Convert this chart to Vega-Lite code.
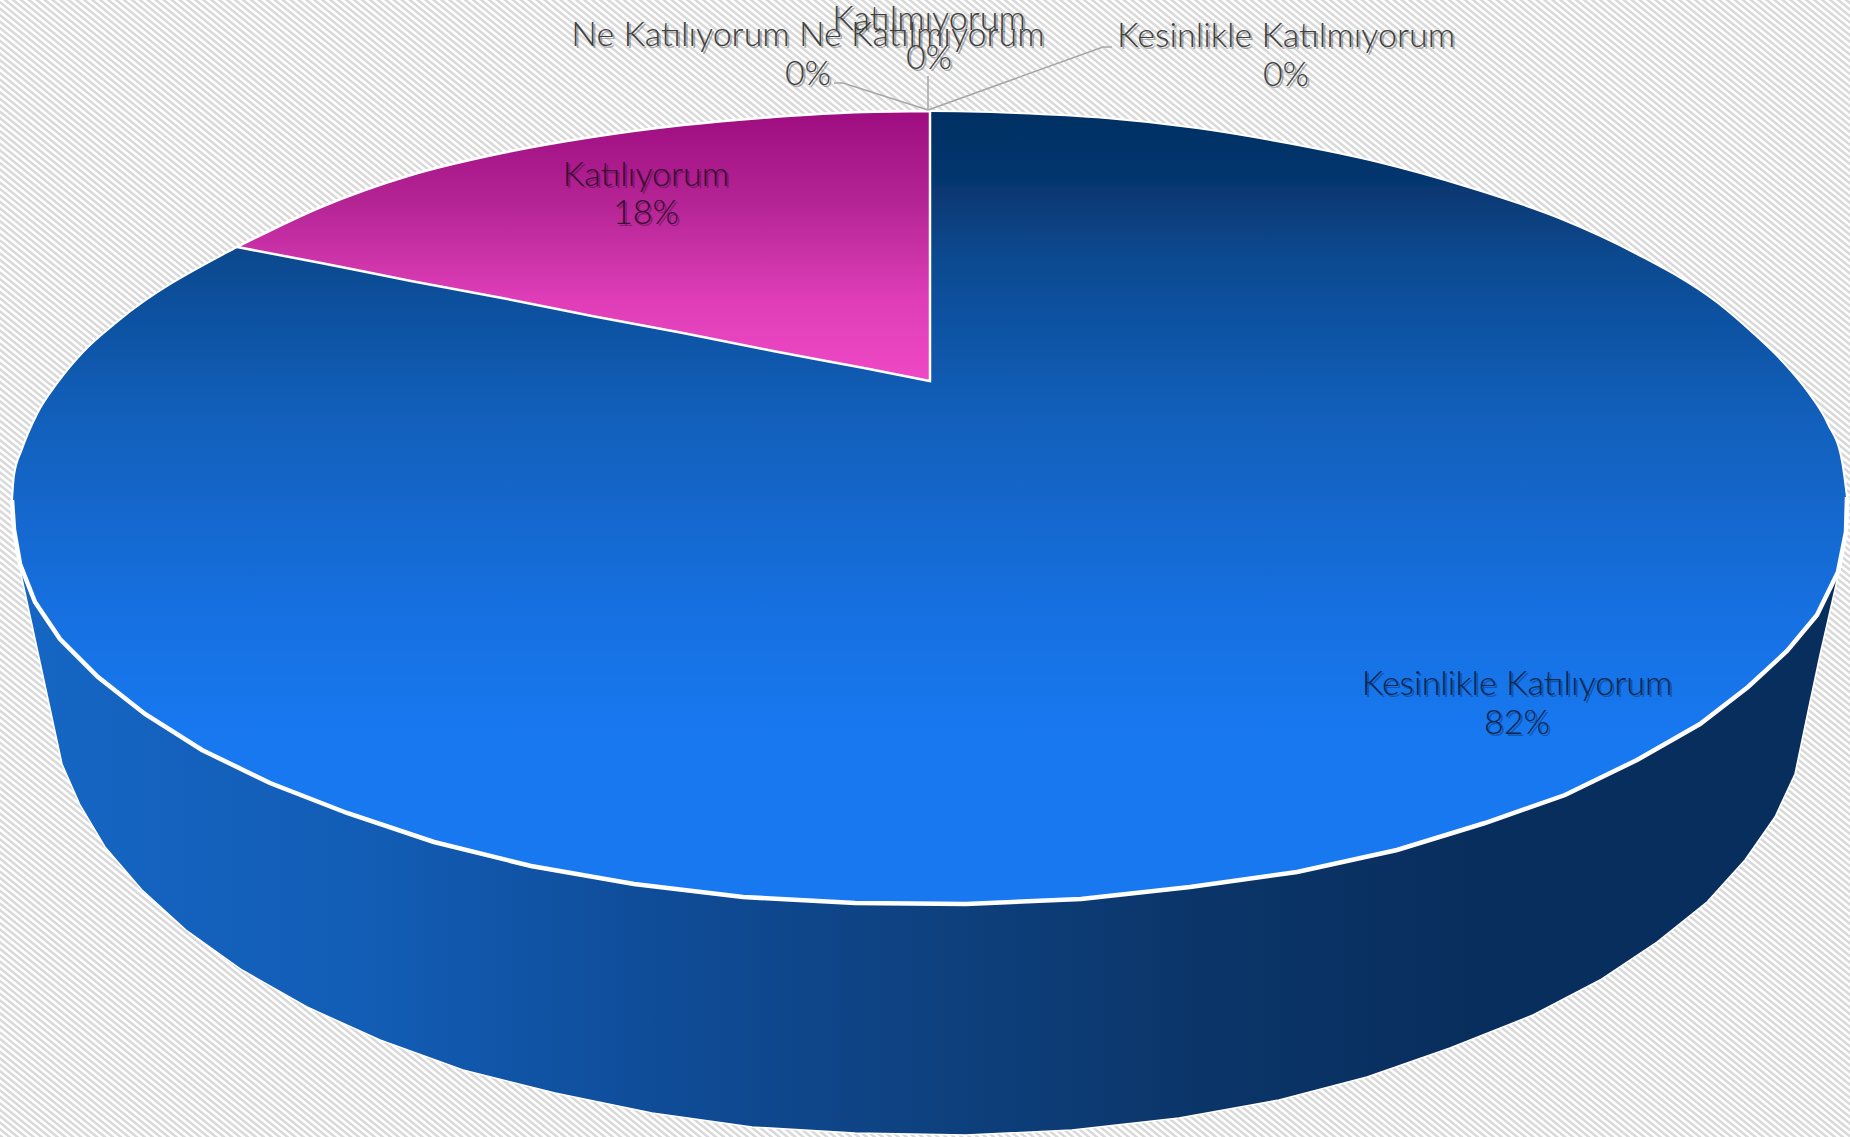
{"$schema":"https://vega.github.io/schema/vega-lite/v6.json","width":1850,"height":1137,"padding":0,"autosize":{"type":"none"},"background":"#ffffff","config":{"view":{"stroke":null}},
"datasets":{
"hatch":[{"x":232,"y":1422,"x2":1618,"y2":-286}],
"wall":[{"x":21,"y":560,"y2":574},{"x":62,"y":560,"y2":764},{"x":80,"y":560,"y2":805},{"x":105,"y":560,"y2":847},{"x":142,"y":560,"y2":890},{"x":186,"y":560,"y2":930},{"x":242,"y":560,"y2":970},{"x":307,"y":560,"y2":1007},{"x":380,"y":560,"y2":1040},{"x":463,"y":560,"y2":1070},{"x":555,"y":560,"y2":1093},{"x":652,"y":560,"y2":1113},{"x":752,"y":560,"y2":1127},{"x":855,"y":560,"y2":1133},{"x":966,"y":560,"y2":1135},{"x":1072,"y":560,"y2":1130},{"x":1179,"y":560,"y2":1118},{"x":1279,"y":560,"y2":1100},{"x":1367,"y":560,"y2":1077},{"x":1450,"y":560,"y2":1048},{"x":1533,"y":560,"y2":1015},{"x":1600,"y":560,"y2":980},{"x":1657,"y":560,"y2":942},{"x":1707,"y":560,"y2":902},{"x":1745,"y":560,"y2":860},{"x":1775,"y":560,"y2":817},{"x":1795,"y":560,"y2":774},{"x":1810,"y":560,"y2":702},{"x":1820,"y":560,"y2":655},{"x":1838,"y":560,"y2":576}],
"rimBack":[{"x":12,"y":500,"y2":502},{"x":14,"y":475,"y2":502},{"x":22,"y":449,"y2":502},{"x":37,"y":414,"y2":502},{"x":58,"y":382,"y2":502},{"x":83,"y":352,"y2":502},{"x":118,"y":321,"y2":502},{"x":237,"y":247,"y2":502},{"x":321,"y":207,"y2":502},{"x":411,"y":175,"y2":502},{"x":502,"y":153,"y2":502},{"x":592,"y":137,"y2":502},{"x":683,"y":125,"y2":502},{"x":773,"y":117,"y2":502},{"x":864,"y":112,"y2":502},{"x":930,"y":111,"y2":502},{"x":1016,"y":113,"y2":502},{"x":1106,"y":118,"y2":502},{"x":1197,"y":128,"y2":502},{"x":1287,"y":143,"y2":502},{"x":1378,"y":162,"y2":502},{"x":1468,"y":187,"y2":502},{"x":1559,"y":218,"y2":502},{"x":1637,"y":254,"y2":502},{"x":1718,"y":303,"y2":502},{"x":1753,"y":333,"y2":502},{"x":1783,"y":362,"y2":502},{"x":1808,"y":392,"y2":502},{"x":1828,"y":424,"y2":502},{"x":1842,"y":461,"y2":502},{"x":1847,"y":497,"y2":502}],
"rimFront":[{"x":12,"y":500,"y2":500},{"x":14,"y":530,"y2":500},{"x":20,"y":564,"y2":500},{"x":35,"y":602,"y2":500},{"x":60,"y":639,"y2":500},{"x":98,"y":677,"y2":500},{"x":145,"y":714,"y2":500},{"x":202,"y":750,"y2":500},{"x":270,"y":783,"y2":500},{"x":347,"y":813,"y2":500},{"x":434,"y":842,"y2":500},{"x":531,"y":866,"y2":500},{"x":634,"y":884,"y2":500},{"x":743,"y":897,"y2":500},{"x":855,"y":903,"y2":500},{"x":966,"y":904,"y2":500},{"x":1081,"y":899,"y2":500},{"x":1190,"y":887,"y2":500},{"x":1297,"y":872,"y2":500},{"x":1397,"y":850,"y2":500},{"x":1485,"y":823,"y2":500},{"x":1565,"y":795,"y2":500},{"x":1637,"y":760,"y2":500},{"x":1700,"y":724,"y2":500},{"x":1748,"y":687,"y2":500},{"x":1787,"y":651,"y2":500},{"x":1817,"y":615,"y2":500},{"x":1838,"y":572,"y2":500},{"x":1846,"y":532,"y2":500},{"x":1847,"y":497,"y2":500}],
"wedge":[{"x":237,"y":247,"y2":247},{"x":321,"y":207,"y2":263},{"x":411,"y":175,"y2":281},{"x":502,"y":153,"y2":298},{"x":592,"y":137,"y2":316},{"x":683,"y":125,"y2":333},{"x":773,"y":117,"y2":351},{"x":864,"y":112,"y2":368},{"x":930,"y":111,"y2":381}],
"leaders":[{"slice":"Ne Katılıyorum Ne Katılmıyorum","step":1,"x":834,"y":83},{"slice":"Ne Katılıyorum Ne Katılmıyorum","step":2,"x":843,"y":83},{"slice":"Ne Katılıyorum Ne Katılmıyorum","step":3,"x":928,"y":110},{"slice":"Katılmıyorum","step":1,"x":928,"y":76},{"slice":"Katılmıyorum","step":2,"x":928,"y":110},{"slice":"Kesinlikle Katılmıyorum","step":1,"x":1112,"y":47},{"slice":"Kesinlikle Katılmıyorum","step":2,"x":1103,"y":47},{"slice":"Kesinlikle Katılmıyorum","step":3,"x":928,"y":110}],
"labels":[{"text":"Kesinlikle Katılıyorum","tone":"blue","x":1517,"y":685},{"text":"82%","tone":"blue","x":1517,"y":724},{"text":"Katılıyorum","tone":"pink","x":646,"y":176},{"text":"18%","tone":"pink","x":646,"y":214},{"text":"Ne Katılıyorum Ne Katılmıyorum","tone":"none","x":808,"y":36},{"text":"0%","tone":"none","x":808,"y":75},{"text":"Katılmıyorum","tone":"none","x":929,"y":20},{"text":"0%","tone":"none","x":929,"y":59},{"text":"Kesinlikle Katılmıyorum","tone":"none","x":1286,"y":37},{"text":"0%","tone":"none","x":1286,"y":76}]},
"encoding":{"x":{"field":"x","type":"quantitative","scale":{"domain":[0,1850],"nice":false,"zero":false},"axis":null},"y":{"field":"y","type":"quantitative","scale":{"domain":[1137,0],"nice":false,"zero":false},"axis":null}},
"layer":[
{"data":{"name":"hatch"},"mark":{"type":"rule","clip":true,"color":"#d9d9d9","strokeWidth":2600,"strokeDash":[2.5,2.5],"strokeCap":"butt"},"encoding":{"x2":{"field":"x2"},"y2":{"field":"y2"}}},
{"data":{"name":"wall"},"mark":{"type":"area","stroke":"#ffffff","strokeWidth":1.5,"color":{"gradient":"linear","x1":0,"y1":0,"x2":1,"y2":0,"stops":[{"offset":0,"color":"#1566c4"},{"offset":0.2,"color":"#125cb4"},{"offset":0.35,"color":"#0f4c98"},{"offset":0.5,"color":"#0e417f"},{"offset":0.65,"color":"#0b3569"},{"offset":0.8,"color":"#082e5d"},{"offset":1,"color":"#082e5d"}]}},"encoding":{"y2":{"field":"y2"}}},
{"data":{"name":"rimBack"},"mark":{"type":"area","interpolate":"monotone","color":{"gradient":"linear","x1":0,"y1":0,"x2":0,"y2":1,"stops":[{"offset":0,"color":"#003063"},{"offset":0.18,"color":"#02366e"},{"offset":0.2,"color":"#0c3873"},{"offset":0.38,"color":"#0c4a90"},{"offset":0.48,"color":"#0c4f9c"},{"offset":0.79,"color":"#1260bc"},{"offset":1,"color":"#1466ca"}]}},"encoding":{"y2":{"field":"y2"}}},
{"data":{"name":"rimFront"},"mark":{"type":"area","color":{"gradient":"linear","x1":0,"y1":0,"x2":0,"y2":1,"stops":[{"offset":0,"color":"#1466ca"},{"offset":0.28,"color":"#1670e0"},{"offset":0.58,"color":"#1878f0"},{"offset":1,"color":"#1878f0"}]}},"encoding":{"y2":{"field":"y2"}}},
{"data":{"name":"rimBack"},"mark":{"type":"line","interpolate":"monotone","color":"#ffffff","strokeWidth":2}},
{"data":{"name":"rimFront"},"mark":{"type":"line","color":"#ffffff","strokeWidth":4.5}},
{"data":{"name":"wedge"},"mark":{"type":"area","stroke":"#ffffff","strokeWidth":2.5,"interpolate":"monotone","color":{"gradient":"linear","x1":0,"y1":0,"x2":0,"y2":1,"stops":[{"offset":0,"color":"#9e0d7f"},{"offset":0.35,"color":"#b52596"},{"offset":0.7,"color":"#df3eb8"},{"offset":1,"color":"#ef48c6"}]}},"encoding":{"y2":{"field":"y2"}}},
{"data":{"name":"leaders"},"mark":{"type":"line","color":"#a6a6a6","strokeWidth":1.5},"encoding":{"detail":{"field":"slice"},"order":{"field":"step"}}},
{"data":{"name":"labels"},"mark":{"type":"text","font":"Lato","fontSize":34,"fontWeight":300,"align":"center","baseline":"middle","dx":2,"dy":2,"opacity":0.4},"encoding":{"text":{"field":"text"},"color":{"field":"tone","type":"nominal","legend":null,"scale":{"domain":["blue","pink","none"],"range":["#06264f","#3a0a30","#404040"]}}}},
{"data":{"name":"labels"},"mark":{"type":"text","font":"Lato","fontSize":34,"fontWeight":300,"align":"center","baseline":"middle"},"encoding":{"text":{"field":"text"},"color":{"field":"tone","type":"nominal","legend":null,"scale":{"domain":["blue","pink","none"],"range":["#0a3468","#450c38","#505050"]}}}}
]}
